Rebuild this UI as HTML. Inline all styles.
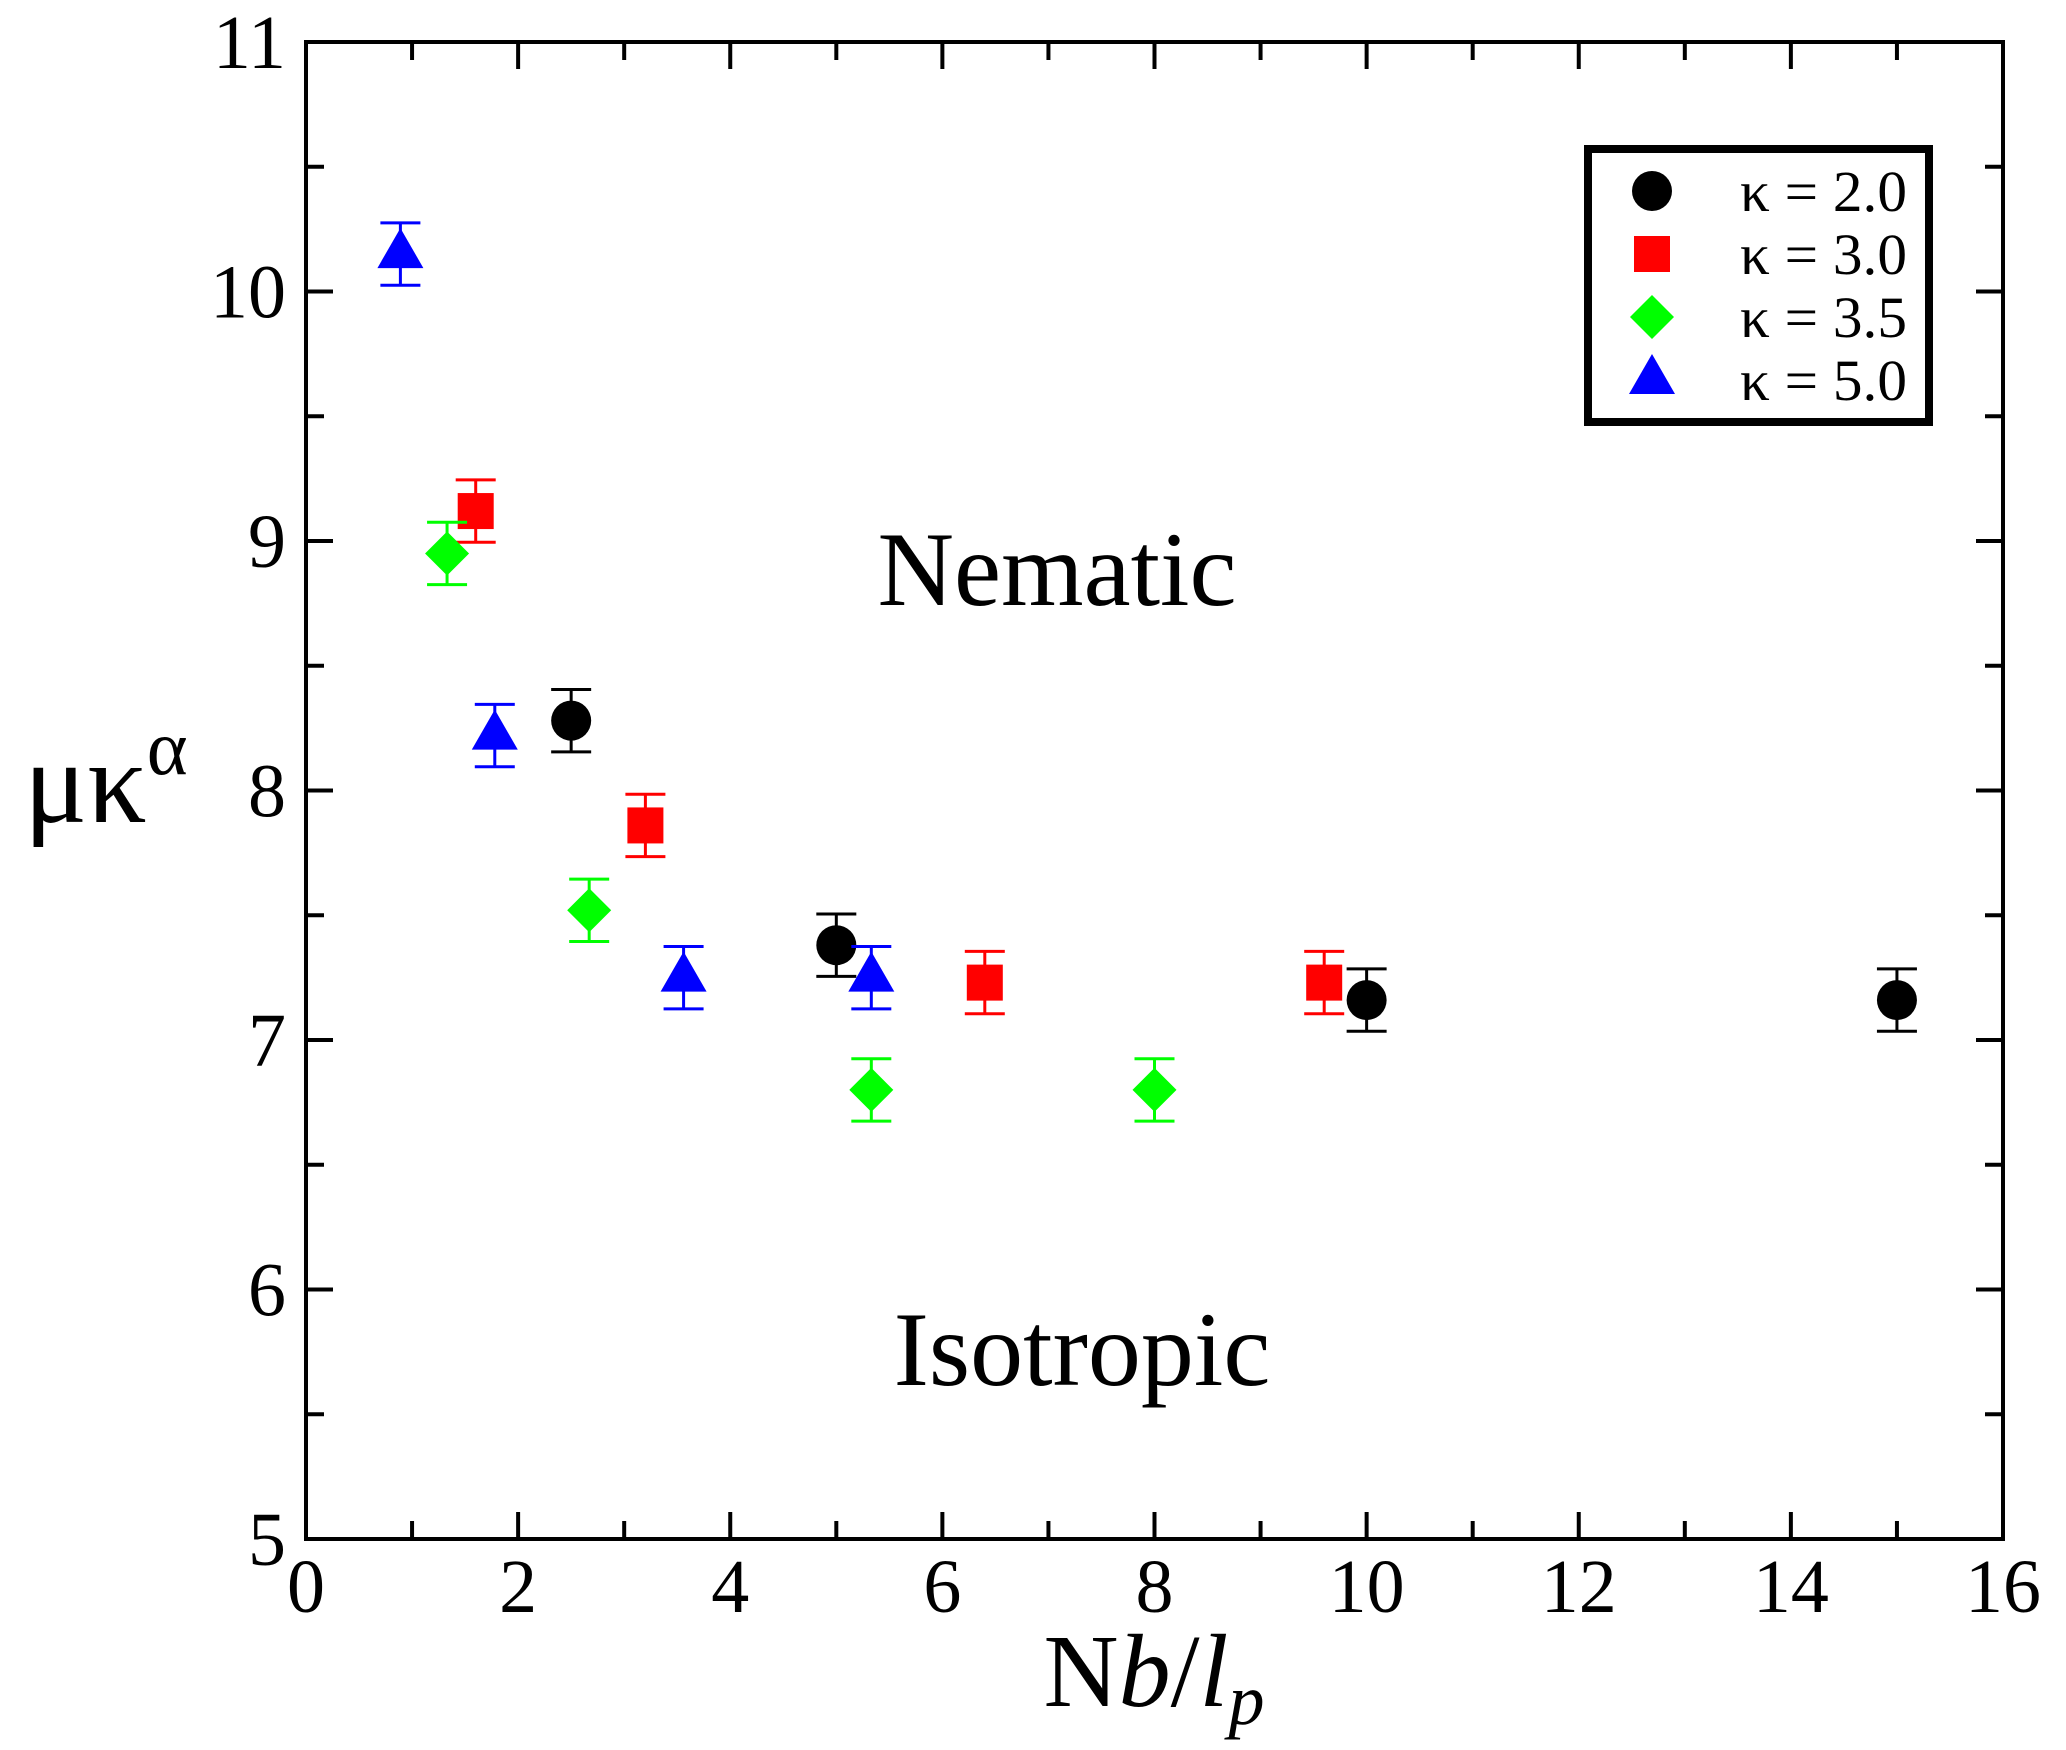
<!DOCTYPE html>
<html><head><meta charset="utf-8"><style>body{margin:0;background:#fff}svg{display:block;font-family:"Liberation Serif",serif}text{font-family:"Liberation Serif",serif}</style></head>
<body>
<svg id="chart" width="2066" height="1750" viewBox="0 0 2066 1750" xmlns="http://www.w3.org/2000/svg" font-family="Liberation Serif, serif">
<g id="axes"></g>
<g id="marks"></g>
<text x="1057" y="605" font-size="106" text-anchor="middle" font-family="Liberation Serif, serif">Nematic</text>
<text x="1082" y="1385" font-size="106" text-anchor="middle" font-family="Liberation Serif, serif">Isotropic</text>
<text x="1154" y="1706" font-size="104" text-anchor="middle" font-family="Liberation Serif, serif">N<tspan font-style="italic">b</tspan>/<tspan font-style="italic">l</tspan><tspan font-style="italic" font-size="72" dy="18">p</tspan></text>
<text x="24" y="822" font-size="118" font-family="Liberation Serif, serif">μκ<tspan font-size="78" dy="-48">α</tspan></text>
<g id="legend">
<rect x="1588" y="149" width="341" height="273" fill="#fff" stroke="#000" stroke-width="8"/>
</g>
</svg>
<script>
const xTicks=[0,2,4,6,8,10,12,14,16];
const yTicks=[5,6,7,8,9,10,11];
const seriesLabels=["κ = 2.0","κ = 3.0","κ = 3.5","κ = 5.0"];
const seriesColors=["#000","#f00","#0f0","#00f"];
const seriesShapes=["circle","square","diamond","triangle"];
const xK20=[2.5,5.0,10.0,15.0];
const yK20=[8.28,7.38,7.16,7.16];
const xK30=[1.6,3.2,6.4,9.6];
const yK30=[9.12,7.86,7.23,7.23];
const xK35=[1.33,2.67,5.33,8.0];
const yK35=[8.95,7.52,6.80,6.80];
const xK50=[0.89,1.78,3.56,5.33];
const yK50=[10.15,8.22,7.25,7.25];
const errBar=[0.125,0.125,0.125,0.125];
const seriesX=[xK20,xK30,xK35,xK50];
const seriesY=[yK20,yK30,yK35,yK50];

const L=306,R=2003,T=42,B=1539;
const sx=v=>L+(v-0)/(16-0)*(R-L);
const sy=v=>B-(v-5)/(11-5)*(B-T);
const NS="http://www.w3.org/2000/svg";
const FF="Liberation Serif, serif";
function mk(tag,attrs,parent){const e=document.createElementNS(NS,tag);for(const k in attrs)e.setAttribute(k,attrs[k]);parent.appendChild(e);return e;}
const axes=document.getElementById('axes');
const frame=mk('rect',{x:L,y:T,width:R-L,height:B-T,fill:'none',stroke:'#000','stroke-width':4},axes);


for(let v=0;v<=16;v+=1){
  const major=v%2===0,len=major?27:18,x=sx(v);
  const t1=mk('line',{x1:x,y1:B,x2:x,y2:B-len,stroke:'#000','stroke-width':4},axes);
  
  
  const t2=mk('line',{x1:x,y1:T,x2:x,y2:T+len,stroke:'#000','stroke-width':4},axes);
  
  
}
xTicks.forEach(v=>{
  const t=mk('text',{x:sx(v),y:1612,'font-size':76,'text-anchor':'middle','font-family':FF},axes);t.textContent=v;
  
  
});
for(let v=5;v<=11;v+=0.5){
  const major=Number.isInteger(v),len=major?27:18,y=sy(v);
  const t1=mk('line',{x1:L,y1:y,x2:L+len,y2:y,stroke:'#000','stroke-width':4},axes);
  
  
  const t2=mk('line',{x1:R,y1:y,x2:R-len,y2:y,stroke:'#000','stroke-width':4},axes);
  
  
}
yTicks.forEach(v=>{
  const t=mk('text',{x:286,y:sy(v)+26,'font-size':76,'text-anchor':'end','font-family':FF},axes);t.textContent=v;
  
  
});
function marker(shape,cx,cy,col,parent){
  if(shape==='circle')return mk('circle',{cx:cx,cy:cy,r:20,fill:col},parent);
  if(shape==='square')return mk('rect',{x:cx-18,y:cy-18,width:36,height:36,fill:col},parent);
  if(shape==='diamond')return mk('polygon',{points:`${cx},${cy-22} ${cx+22},${cy} ${cx},${cy+22} ${cx-22},${cy}`,fill:col},parent);
  return mk('polygon',{points:`${cx},${cy-26} ${cx+23},${cy+14} ${cx-23},${cy+14}`,fill:col},parent);
}
const marks=document.getElementById('marks');
seriesX.forEach((xs,si)=>{
  const col=seriesColors[si];
  xs.forEach((xv,i)=>{
    const yv=seriesY[si][i],e=errBar[si];
    const cx=sx(xv),cy=sy(yv),y1=sy(yv+e),y2=sy(yv-e);
    const g=mk('g',{},marks);
    
    
    mk('line',{x1:cx,y1:y1,x2:cx,y2:y2,stroke:col,'stroke-width':3},g);
    mk('line',{x1:cx-20,y1:y1,x2:cx+20,y2:y1,stroke:col,'stroke-width':3},g);
    mk('line',{x1:cx-20,y1:y2,x2:cx+20,y2:y2,stroke:col,'stroke-width':3},g);
    marker(seriesShapes[si],cx,cy,col,g);
  });
});
const legend=document.getElementById('legend');
const rowsY=[191,254,317,380];
seriesLabels.forEach((lab,i)=>{
  const g=mk('g',{},legend);
  
  
  marker(seriesShapes[i],1652,rowsY[i],seriesColors[i],g);
  const t=mk('text',{x:1740,y:rowsY[i]+20,'font-size':58,textLength:167,lengthAdjust:'spacingAndGlyphs','font-family':FF},g);
  t.textContent=lab;
});
</script>
</body></html>
